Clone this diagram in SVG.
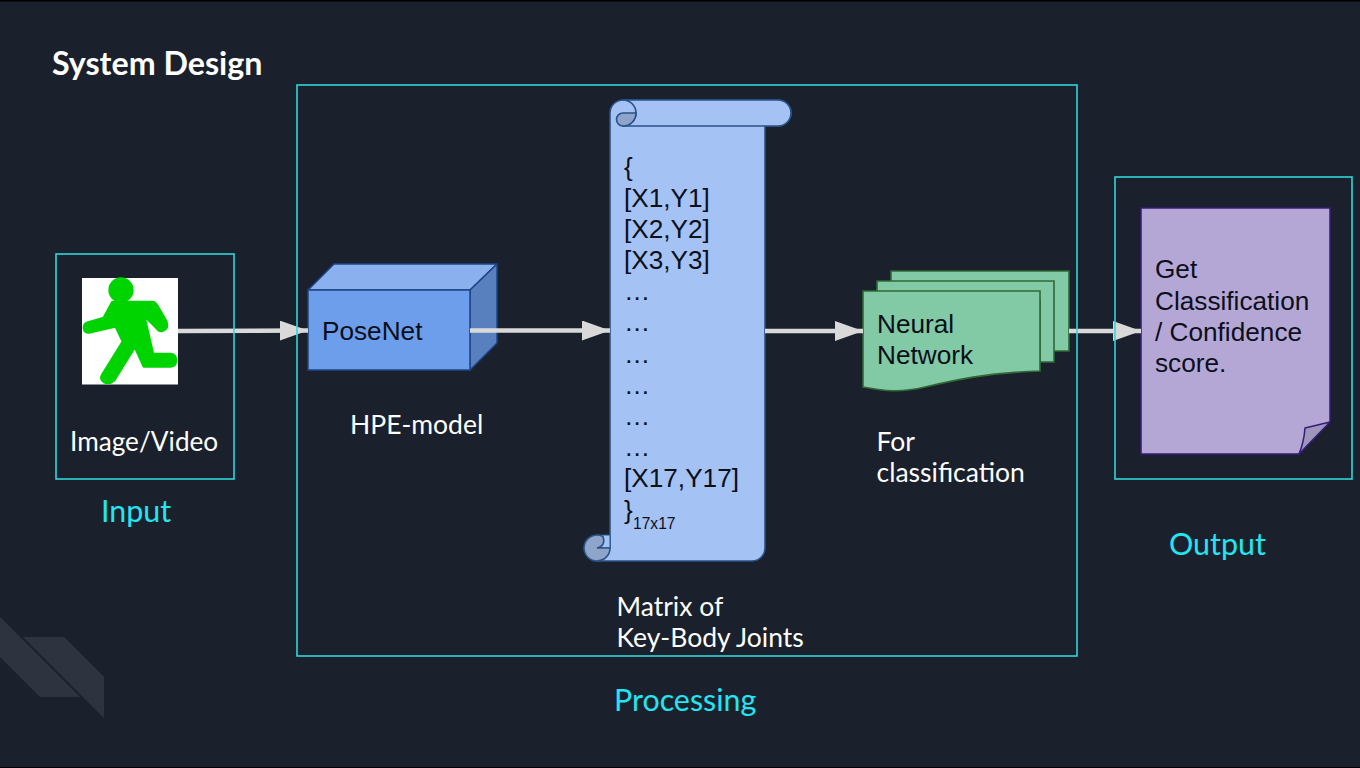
<svg xmlns="http://www.w3.org/2000/svg" width="1360" height="768" viewBox="0 0 1360 768">
<defs>
<style>
.frame{fill:none;stroke:#2fd6da;stroke-width:1.6}
.lato{font-family:"Lato","Liberation Sans",sans-serif;fill:#ffffff;font-size:26.5px}
.cy{font-family:"Lato","Liberation Sans",sans-serif;fill:#22e6f2;font-size:30.4px}
.in{font-family:"Liberation Sans",Arial,sans-serif;fill:#0b0f1a;font-size:26.2px}
.line{fill:none;stroke:#d9d9d9;stroke-width:4.5}
.scroll{fill:#a4c2f4;stroke:#2a5288;stroke-width:1.6;stroke-linejoin:round}
.curl{fill:#8ea4c8;stroke:#2a5288;stroke-width:1.6}
.doc{fill:#82c9a6;stroke:#2f6a35;stroke-width:1.6}
</style>
<marker id="ah" markerUnits="userSpaceOnUse" markerWidth="28" markerHeight="20" refX="28" refY="10" orient="auto"><path d="M0 0L28 10L0 20Z" fill="#d9d9d9"/></marker>
</defs>
<rect width="1360" height="768" fill="#1a202c"/>
<rect width="1360" height="1.500" fill="#000000"/>
<rect y="767" width="1360" height="1" fill="#000000"/>
<g id="mark" fill="#2d333f">
<path d="M0 617L80 697H40L0 657Z"/>
<path d="M23 637H64L104 677V718Z"/>
</g>
<text x="52" y="75" font-family="Lato,'Liberation Sans',sans-serif" font-weight="700" font-size="32.2" fill="#ffffff">System Design</text>
<g id="runner">
<rect x="82" y="278" width="96" height="106.500" fill="#ffffff"/>
<g transform="translate(40 240) scale(0.3333)" fill="#00d400" stroke="#00d400" stroke-width="10" stroke-linejoin="round">
<circle cx="243" cy="150" r="33"/>
<path d="M218 187H335Q345 187 350 197L378 245Q384 263 370 270Q358 275 350 263L310 222L338 343H392Q407 345 407 361Q407 378 392 378H312L285 318L222 420Q208 432 194 426Q180 418 188 405L250 305L228 258L150 276Q135 278 133 264Q133 252 142 249L192 235Z"/>
</g>
</g>
<text class="lato" x="70" y="451" style="font-size:26.200px">Image/Video</text>
<text class="cy" x="101" y="522">Input</text>
<g id="posenet">
<path d="M308 290L334 264H497L470 290Z" fill="#8ab0ee" stroke="#1c4587" stroke-width="1.500" stroke-linejoin="round"/>
<path d="M470 290L497 264V343L470 370Z" fill="#587fbe" stroke="#1c4587" stroke-width="1.500" stroke-linejoin="round"/>
<rect x="308" y="290" width="162" height="80" fill="#6d9eeb" stroke="#1c4587" stroke-width="1.500"/>
<text class="in" x="322" y="340">PoseNet</text>
</g>
<text class="lato" x="350" y="434">HPE-model</text>
<g id="matrix">
<path class="scroll" d="M623 100H778A13 13 0 0 1 778 126H765V548A13 13 0 0 1 752 561H597V548H610V113A13 13 0 0 1 623 100Z"/>
<path class="scroll" d="M623 126H778A13 13 0 0 0 778 100H623A13 13 0 0 1 623 126Z"/>
<path class="curl" d="M636 113A13 13 0 0 1 623 126A6.500 6.500 0 0 1 623 113Z"/>
<path d="M597 535H610V548H597Z" fill="#a4c2f4" stroke="#2a5288" stroke-width="1"/>
<path class="curl" d="M610 548A13 13 0 1 1 603 536.500Q606 546 597 548Z"/>
<g class="in">
<text x="624" y="176">{</text>
<text x="624" y="207">[X1,Y1]</text>
<text x="624" y="238">[X2,Y2]</text>
<text x="624" y="269">[X3,Y3]</text>
<text x="624" y="300">…</text>
<text x="624" y="331">…</text>
<text x="624" y="363">…</text>
<text x="624" y="394">…</text>
<text x="624" y="425">…</text>
<text x="624" y="456">…</text>
<text x="624" y="487">[X17,Y17]</text>
<text x="624" y="519">}</text>
<text x="633" y="529" font-size="15.600">17x17</text>
</g>
</g>
<text class="lato" x="616.500" y="616">Matrix of</text>
<text class="lato" x="616.500" y="647">Key-Body Joints</text>
<g id="neural-network">
<path class="doc" d="M891 271H1069V351H1050V300H891Z"/>
<path class="doc" d="M877 281H1054V362H1040V300H877Z"/>
<path class="doc" d="M863 291H1040V371C985 373 955 380 925 387C900 393 885 391 863 387Z"/>
<text class="in" x="877" y="333">Neural</text>
<text class="in" x="877" y="364">Network</text>
</g>
<text class="lato" x="876.500" y="451">For</text>
<text class="lato" x="876.500" y="482">classification</text>
<g id="result">
<path d="M1141 208H1330V422L1299 454H1141Z" fill="#b4a7d6" stroke="#351c75" stroke-width="1.500"/>
<path d="M1330 422L1305 428Q1304 442 1299 454Z" fill="#9f96bc" stroke="#351c75" stroke-width="1.500" stroke-linejoin="round"/>
<text class="in" x="1155" y="278">Get</text>
<text class="in" x="1155" y="310">Classification</text>
<text class="in" x="1155" y="341">/ Confidence</text>
<text class="in" x="1155" y="372">score.</text>
</g>
<text class="cy" x="1169" y="555">Output</text>
<text class="cy" x="614" y="711">Processing</text>
<g id="connectors">
<path class="line" marker-end="url(#ah)" d="M178 331L308 330.500"/>
<path class="line" marker-end="url(#ah)" d="M470 330.500H610"/>
<path class="line" marker-end="url(#ah)" d="M765 331H863"/>
<path class="line" marker-end="url(#ah)" d="M1069 331H1141"/>
</g>
<g id="frames">
<rect id="input-frame" class="frame" x="56" y="254" width="178" height="225"/>
<rect id="processing-frame" class="frame" x="297" y="85" width="780" height="571"/>
<rect id="output-frame" class="frame" x="1115" y="177" width="237" height="302"/>
</g>
</svg>
